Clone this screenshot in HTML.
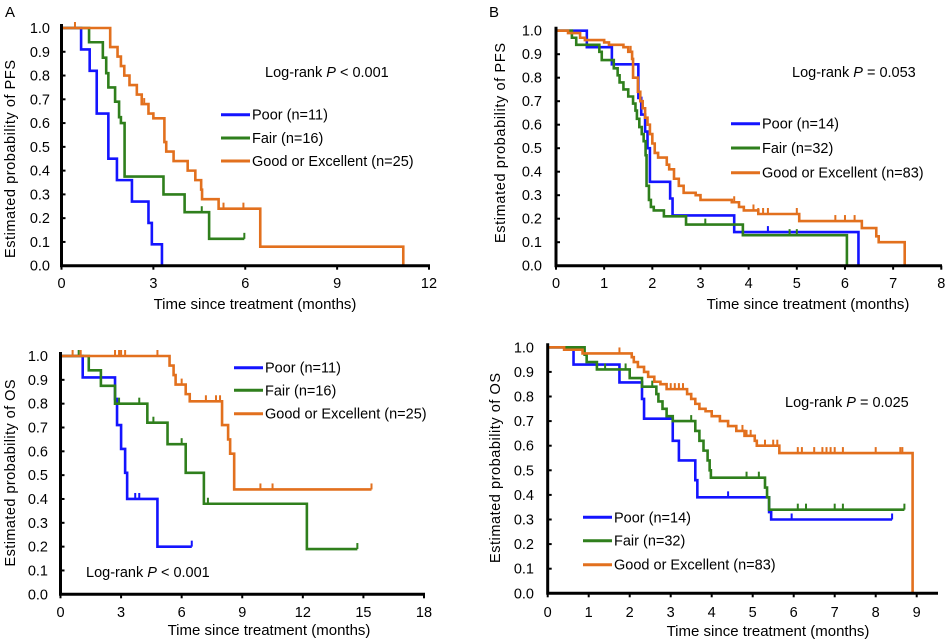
<!DOCTYPE html>
<html><head><meta charset="utf-8"><style>
html,body{margin:0;padding:0;background:#fff;}
svg{display:block;font-family:"Liberation Sans",Arial,sans-serif;}
</style></head><body>
<svg id="fig" width="947" height="642" viewBox="0 0 947 642"></svg>
<script>
// ---- Data: Panel A PFS (Poor / Fair / Good) ----
const aPoorT=[0.64,0.92,1.15,1.53,1.81,2.3,2.84,2.95,3.28];
const aPoorS=[0.91,0.82,0.64,0.45,0.36,0.27,0.18,0.09,0];
const aPoorC=[];
const aPoorEnd=3.28;
const aFairT=[0.9,1.35,1.46,1.53,1.75,1.88,1.94,2.06,3.33,4.02,4.82];
const aFairS=[0.94,0.875,0.81,0.75,0.69,0.625,0.6,0.375,0.3,0.225,0.113];
const aFairC=[4.58,5.97];
const aFairEnd=5.97;
const aGoodT=[1.59,1.83,1.94,2.05,2.22,2.46,2.62,2.84,3.0,3.36,3.42,3.66,4.12,4.37,4.56,4.59,5.13,6.49,11.16];
const aGoodS=[0.92,0.88,0.84,0.8,0.76,0.72,0.68,0.64,0.62,0.52,0.48,0.44,0.4,0.36,0.32,0.28,0.24,0.08,0];
const aGoodC=[0.44,2.7,3.0,5.29,5.94];
const aGoodEnd=11.16;
// ---- Panel B PFS ----
const bPoorT=[0.64,1.16,1.71,1.77,1.85,1.9,1.95,2.37,2.42,3.7,6.28];
const bPoorS=[0.93,0.857,0.714,0.643,0.571,0.5,0.357,0.286,0.214,0.143,0];
const bPoorC=[4.4];
const bPoorEnd=6.28;
const bFairT=[0.33,0.42,0.9,0.95,1.2,1.28,1.32,1.4,1.5,1.6,1.65,1.68,1.73,1.78,1.82,1.86,1.88,1.93,1.97,2.03,2.24,2.7,3.88,6.04];
const bFairS=[0.97,0.94,0.91,0.875,0.84,0.81,0.78,0.75,0.72,0.69,0.66,0.625,0.59,0.56,0.53,0.47,0.34,0.28,0.25,0.235,0.21,0.175,0.13,0];
const bFairC=[3.1,4.85,5.0];
const bFairEnd=6.04;
const bGoodT=[0.25,0.5,0.6,1.0,1.1,1.4,1.5,1.58,1.6,1.7,1.75,1.8,1.85,1.9,1.95,2.0,2.05,2.12,2.3,2.35,2.45,2.55,2.65,2.9,3.0,3.65,3.8,3.9,4.2,5.05,6.35,6.65,6.7,7.24];
const bGoodS=[0.99,0.97,0.96,0.95,0.94,0.93,0.91,0.88,0.8,0.74,0.7,0.67,0.63,0.6,0.56,0.52,0.48,0.46,0.43,0.41,0.37,0.34,0.31,0.3,0.28,0.27,0.25,0.235,0.22,0.19,0.16,0.125,0.1,0];
const bGoodC=[1.55,3.7,4.1,4.2,4.3,4.4,5.0,5.8,6.0,6.2];
const bGoodEnd=7.24;
// ---- Panel C OS ----
const cPoorT=[1.1,2.7,2.8,3.0,3.2,3.3,4.8];
const cPoorS=[0.91,0.82,0.71,0.61,0.51,0.4,0.2];
const cPoorC=[3.7,3.9,6.5];
const cPoorEnd=6.5;
const cFairT=[1.4,2.0,2.7,4.3,5.3,6.2,7.1,12.2];
const cFairS=[0.94,0.875,0.8,0.72,0.63,0.51,0.38,0.19];
const cFairC=[0.9,2.9,3.9,4.6,6.0,7.3,14.7];
const cFairEnd=14.7;
const cGoodT=[5.4,5.6,5.7,6.2,6.4,8.0,8.3,8.4,8.6];
const cGoodS=[0.96,0.92,0.88,0.84,0.81,0.71,0.65,0.59,0.44];
const cGoodC=[0.6,1.0,2.7,2.9,3.0,3.2,4.8,6.0,7.2,7.7,7.9,9.9,10.5,15.4];
const cGoodEnd=15.4;
// ---- Panel D OS ----
const dPoorT=[0.63,1.75,2.3,2.35,3.05,3.2,3.6,3.65,5.4,5.45];
const dPoorS=[0.93,0.857,0.79,0.71,0.62,0.54,0.46,0.39,0.33,0.3];
const dPoorC=[4.4,5.95,8.4];
const dPoorEnd=8.4;
const dFairT=[0.9,0.95,1.2,2.0,2.3,2.65,2.7,2.8,2.9,3.05,3.6,3.7,3.8,3.9,3.95,3.98,5.3,5.35,5.4];
const dFairS=[0.97,0.94,0.91,0.875,0.84,0.81,0.78,0.75,0.72,0.7,0.66,0.62,0.58,0.54,0.5,0.47,0.43,0.39,0.34];
const dFairC=[1.4,1.9,2.55,3.5,4.85,5.15,6.1,6.3,7.0,7.2,8.7];
const dFairEnd=8.7;
const dGoodT=[0.4,0.85,2.05,2.1,2.2,2.35,2.45,2.6,2.75,2.9,3.4,3.5,3.6,3.7,3.85,4.0,4.2,4.4,4.6,4.8,5.05,5.1,5.65,8.9];
const dGoodS=[0.99,0.975,0.96,0.94,0.92,0.9,0.88,0.86,0.85,0.83,0.81,0.79,0.77,0.75,0.74,0.72,0.7,0.68,0.66,0.64,0.62,0.6,0.57,0];
const dGoodC=[1.75,3.0,3.1,3.2,3.3,4.75,4.85,4.95,5.3,5.5,5.6,6.1,6.2,6.5,6.7,6.8,6.9,7.0,7.2,8.0,8.6,8.65];
const dGoodEnd=8.9;
const yTicks=["0.0","0.1","0.2","0.3","0.4","0.5","0.6","0.7","0.8","0.9","1.0"];
const aXTicks=[0,3,6,9,12], bXTicks=[0,1,2,3,4,5,6,7,8], cXTicks=[0,3,6,9,12,15,18], dXTicks=[0,1,2,3,4,5,6,7,8,9];
const legendNames=["Poor","Fair","Good or Excellent"];

const NS="http://www.w3.org/2000/svg";
const svg=document.getElementById('fig');
const COL=["#1414ff","#2f7f1c","#e2701e"];
function mk(tag,attrs,parent,text){const e=document.createElementNS(NS,tag);for(const k in attrs)e.setAttribute(k,attrs[k]);if(text!==undefined)e.textContent=text;(parent||svg).appendChild(e);return e;}

function panel(cfg){
  const g=mk('g',{});
  
  
  const X=t=>cfg.x0+(cfg.x1-cfg.x0)*t/cfg.xmax;
  const Y=s=>cfg.y0+(cfg.y1-cfg.y0)*s;
  yTicks.forEach((lab,i)=>{
    const v=+lab;
    const tk=mk('line',{x1:X(0),x2:X(0)+4,y1:Y(v),y2:Y(v),stroke:'#000','stroke-width':2},g);
    
    
    const t=mk('text',{x:cfg.ylabX,y:Y(v)+5,'text-anchor':'end','font-size':14.5},g,lab);
    
    
  });
  cfg.xt.forEach(v=>{
    const tk=mk('line',{x1:X(v),x2:X(v),y1:Y(0),y2:Y(0)+4,stroke:'#000','stroke-width':2},g);
    
    
    const t=mk('text',{x:X(v),y:cfg.xlabY,'text-anchor':'middle','font-size':14.5},g,String(v));
    
    
  });
  cfg.series.forEach((s,i)=>{
    let d='M'+X(0)+','+Y(1);
    s.T.forEach((t,k)=>{d+=' H'+X(t)+' V'+Y(s.S[k]);});
    if(s.end>s.T[s.T.length-1]) d+=' H'+X(s.end);
    const p=mk('path',{d:d,fill:'none',stroke:COL[i],'stroke-width':2.6},g);
    
    
    s.C.forEach(c=>{
      let v=1;s.T.forEach((t,k)=>{if(t<=c)v=s.S[k];});
      const m=mk('line',{x1:X(c),x2:X(c),y1:Y(v),y2:Y(v)-6,stroke:COL[i],'stroke-width':2},g);
      
      
    });
  });
  const ax=mk('path',{d:'M'+X(0)+','+(Y(1)-4)+' V'+Y(0)+' H'+cfg.axEnd,fill:'none',stroke:'#000','stroke-width':3},g);
  
  
  const xt=mk('text',{x:cfg.xtX,y:cfg.xtY,'text-anchor':'middle','font-size':15,'xml:space':'preserve'},g,'Time since  treatment (months)');
  
  
  const yc=cfg.ytC;
  const yt=mk('text',{x:cfg.ytX,y:yc,'text-anchor':'middle','font-size':14.5,textLength:cfg.ytLen,lengthAdjust:'spacing',transform:'rotate(-90 '+cfg.ytX+' '+yc+')','xml:space':'preserve'},g,'Estimated  probability  of  '+cfg.ylab);
  
  
  cfg.series.forEach((s,i)=>{
    const ly=cfg.legY[i];
    const l=mk('line',{x1:cfg.legX,x2:cfg.legX+29,y1:ly,y2:ly,stroke:COL[i],'stroke-width':3},g);
    
    
    const t=mk('text',{x:cfg.legX+31,y:ly+5,'font-size':14.5},g,legendNames[i]+' (n='+s.n+')');
    
    
  });
  const lr=mk('text',{x:cfg.lrX,y:cfg.lrY,'font-size':14.5},g);
  
  
  lr.appendChild(document.createTextNode('Log-rank '));
  mk('tspan',{'font-style':'italic'},lr,'P');
  lr.appendChild(document.createTextNode(' '+cfg.lr));
}

panel({name:'panel-a-pfs',x0:61.5,x1:429,xmax:12,y0:265.7,y1:28,axEnd:430,xt:aXTicks,ylabX:50,xlabY:288,xtX:255,xtY:309,ytX:15,ytC:159,ytLen:198,ylab:'PFS',
  legX:221,legY:[114.7,138,161],lrX:265,lrY:77,lr:'< 0.001',
  series:[{T:aPoorT,S:aPoorS,C:aPoorC,end:aPoorEnd,n:11},{T:aFairT,S:aFairS,C:aFairC,end:aFairEnd,n:16},{T:aGoodT,S:aGoodS,C:aGoodC,end:aGoodEnd,n:25}]});
panel({name:'panel-b-pfs',x0:556,x1:941.3,xmax:8,y0:265.7,y1:30.7,axEnd:942,xt:bXTicks,ylabX:542,xlabY:288,xtX:808,xtY:309,ytX:505,ytC:143,ytLen:200,ylab:'PFS',
  legX:731,legY:[123.7,148,172.7],lrX:792,lrY:77,lr:'= 0.053',
  series:[{T:bPoorT,S:bPoorS,C:bPoorC,end:bPoorEnd,n:14},{T:bFairT,S:bFairS,C:bFairC,end:bFairEnd,n:32},{T:bGoodT,S:bGoodS,C:bGoodC,end:bGoodEnd,n:83}]});
panel({name:'panel-c-os',x0:60.5,x1:424,xmax:18,y0:594.3,y1:356,axEnd:425,xt:cXTicks,ylabX:48,xlabY:617,xtX:269,xtY:635,ytX:15,ytC:473,ytLen:187,ylab:'OS',
  legX:234,legY:[367.7,390.3,413.7],lrX:86,lrY:577,lr:'< 0.001',
  series:[{T:cPoorT,S:cPoorS,C:cPoorC,end:cPoorEnd,n:11},{T:cFairT,S:cFairS,C:cFairC,end:cFairEnd,n:16},{T:cGoodT,S:cGoodS,C:cGoodC,end:cGoodEnd,n:25}]});
panel({name:'panel-d-os',x0:547.7,x1:916.7,xmax:9,y0:593.3,y1:347.3,axEnd:938,xt:dXTicks,ylabX:534,xlabY:617,xtX:768,xtY:636,ytX:500,ytC:468,ytLen:190,ylab:'OS',
  legX:583,legY:[517.3,540.7,564.7],lrX:785,lrY:407,lr:'= 0.025',
  series:[{T:dPoorT,S:dPoorS,C:dPoorC,end:dPoorEnd,n:14},{T:dFairT,S:dFairS,C:dFairC,end:dFairEnd,n:32},{T:dGoodT,S:dGoodS,C:dGoodC,end:dGoodEnd,n:83}]});

const A=mk('text',{x:5,y:17,'font-size':15},svg,'A');


const B=mk('text',{x:489,y:17,'font-size':15},svg,'B');


</script>
</body></html>
